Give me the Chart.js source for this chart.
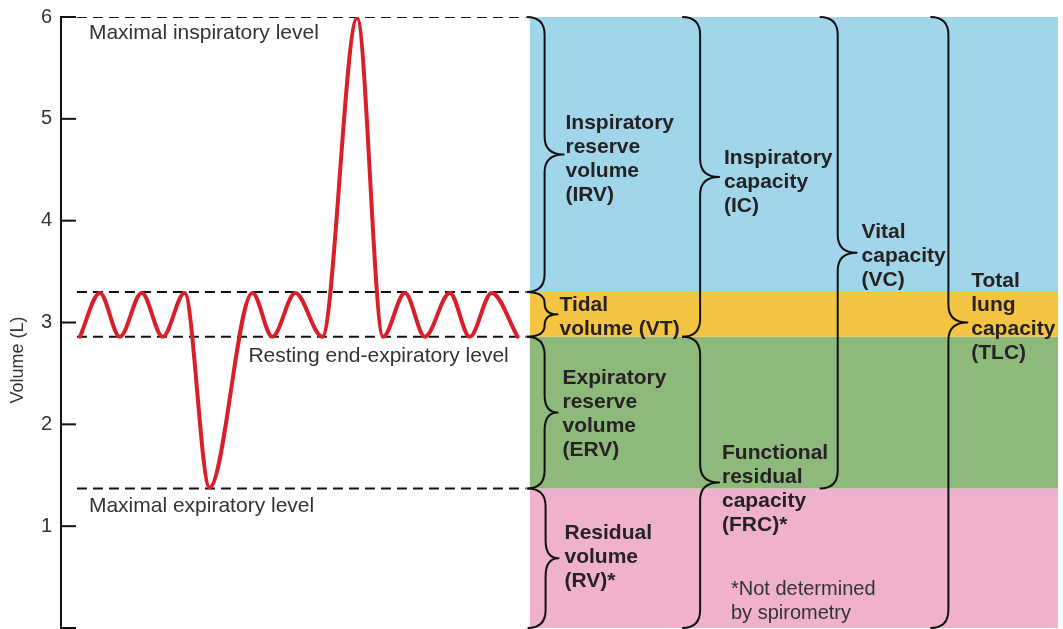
<!DOCTYPE html>
<html>
<head>
<meta charset="utf-8">
<script src="https://cdn.jsdelivr.net/npm/chart.js@4.4.1/dist/chart.umd.min.js"></script>
<style>
  html, body { margin: 0; padding: 0; background: #fff; }
  #chart { display: block; }
</style>
</head>
<body>
<canvas id="chart" width="1063" height="629"></canvas>
<script>
// spirogram trace: time in arbitrary units (0-100 across the plot), volume in L
const traceTime = [1.9, 3.9, 5.9, 8.1, 10.2, 12.4, 14.9, 19.2, 21.2, 23.5, 26.2, 29.7, 32.3, 34.5, 36.5, 39.0, 41.0, 43.2, 45.8];
const traceVolume = [2.86, 3.29, 2.86, 3.29, 2.86, 3.29, 1.38, 3.29, 2.86, 3.29, 2.86, 5.99, 2.86, 3.29, 2.86, 3.29, 2.86, 3.29, 2.86];

// reference levels (dashed lines)
const levelNames = ["Maximal inspiratory level", "", "Resting end-expiratory level", "Maximal expiratory level"];
const levelValues = [6.0, 3.3, 2.86, 1.37];

// lung volumes (coloured bands)
const volumeNames = ["IRV", "VT", "ERV", "RV"];
const volumeTops = [6.0, 3.3, 2.86, 1.37];
const volumeBottoms = [3.3, 2.86, 1.37, 0];

// capacities (sums of volumes)
const capacityNames = ["IC", "FRC", "VC", "TLC"];
const capacityTops = [6.0, 2.86, 6.0, 6.0];
const capacityBottoms = [2.86, 0, 1.37, 0];

const yTicks = [0, 1, 2, 3, 4, 5, 6];

// styling / placement
const bandColors = { IRV: "#a0d5ea", VT: "#f6c443", ERV: "#8dba7b", RV: "#efb1cc" };
const bandFrom = 47.0, bandTo = 100;
const dashFrom = 1.6, dashTo = 46.6;
const braceX = { IRV: 46.7, VT: 46.7, ERV: 46.7, RV: 46.8, IC: 62.3, FRC: 62.3, VC: 76.1, TLC: 87.2 };

const boldLabels = [
  { lines: ["Inspiratory", "reserve", "volume", "(IRV)"], x: 50.6, y: 4.98 },
  { lines: ["Tidal", "volume (VT)"], x: 50.0, y: 3.19 },
  { lines: ["Expiratory", "reserve", "volume", "(ERV)"], x: 50.3, y: 2.47 },
  { lines: ["Residual", "volume", "(RV)*"], x: 50.5, y: 0.95 },
  { lines: ["Inspiratory", "capacity", "(IC)"], x: 66.5, y: 4.63 },
  { lines: ["Functional", "residual", "capacity", "(FRC)*"], x: 66.3, y: 1.74 },
  { lines: ["Vital", "capacity", "(VC)"], x: 80.3, y: 3.91 },
  { lines: ["Total", "lung", "capacity", "(TLC)"], x: 91.3, y: 3.43 },
];
const levelLabelPos = [{ x: 2.8, y: 5.86 }, null, { x: 18.8, y: 2.69 }, { x: 2.8, y: 1.22 }];
const footnote = { lines: ["*Not determined", "by spirometry"], x: 67.2, y: 0.40 };

const FONT = "'Liberation Sans', Arial, sans-serif";
const TEXT_NUDGE = 2; // canvas "middle" sits a bit high vs the print

function buildDatasets() {
  let datasets = [];
  datasets.push({
    label: "Volume",
    data: traceTime.map((t, i) => ({ x: t, y: traceVolume[i] })),
    borderColor: "#d9202a",
    borderWidth: 4,
    pointRadius: 0,
    cubicInterpolationMode: "monotone",
    borderCapStyle: "round",
    fill: false,
  });
  levelValues.forEach((v, i) => {
    datasets.push({
      label: levelNames[i],
      data: [{ x: dashFrom, y: v }, { x: dashTo, y: v }],
      borderColor: "#111",
      borderWidth: 2,
      borderDash: [10, 6],
      pointRadius: 0,
      fill: false,
    });
  });
  volumeNames.forEach((name, i) => {
    datasets.push({
      label: name,
      data: [{ x: bandFrom, y: volumeTops[i] }, { x: bandTo, y: volumeTops[i] }],
      borderWidth: 0,
      pointRadius: 0,
      backgroundColor: bandColors[name],
      fill: { value: volumeBottoms[i] },
    });
  });
  return datasets;
}

function drawBrace(ctx, x0, yTop, yBot) {
  const h = yBot - yTop;
  const s = 18;
  const t = h > 200 ? 19 : 13;
  const r = Math.min(18, h / 4);
  const yMid = (yTop + yBot) / 2;
  ctx.beginPath();
  ctx.moveTo(x0, yTop);
  ctx.quadraticCurveTo(x0 + s, yTop, x0 + s, yTop + r);
  ctx.lineTo(x0 + s, yMid - r);
  ctx.quadraticCurveTo(x0 + s, yMid, x0 + s + t, yMid);
  ctx.quadraticCurveTo(x0 + s, yMid, x0 + s, yMid + r);
  ctx.lineTo(x0 + s, yBot - r);
  ctx.quadraticCurveTo(x0 + s, yBot, x0, yBot);
  ctx.stroke();
}

function drawLines(ctx, lines, x, y, step) {
  lines.forEach((line, i) => ctx.fillText(line, x, y + TEXT_NUDGE + i * step));
}

const annotations = {
  id: "annotations",
  afterDatasetsDraw(chart) {
    const ctx = chart.ctx;
    const xs = chart.scales.x, ys = chart.scales.y;
    const area = chart.chartArea;
    ctx.save();

    // inward tick marks
    ctx.strokeStyle = "#111";
    ctx.lineWidth = 2;
    yTicks.forEach((v) => {
      const py = ys.getPixelForValue(v);
      ctx.beginPath();
      ctx.moveTo(area.left, py);
      ctx.lineTo(area.left + 15, py);
      ctx.stroke();
    });

    // braces
    ctx.lineWidth = 2;
    ctx.lineJoin = "round";
    volumeNames.forEach((name, i) => {
      drawBrace(ctx, xs.getPixelForValue(braceX[name]), ys.getPixelForValue(volumeTops[i]), ys.getPixelForValue(volumeBottoms[i]));
    });
    capacityNames.forEach((name, i) => {
      drawBrace(ctx, xs.getPixelForValue(braceX[name]), ys.getPixelForValue(capacityTops[i]), ys.getPixelForValue(capacityBottoms[i]));
    });

    // texts
    ctx.textBaseline = "middle";
    ctx.textAlign = "left";
    ctx.fillStyle = "#262223";
    ctx.font = `bold 21px ${FONT}`;
    boldLabels.forEach((l) => {
      drawLines(ctx, l.lines, xs.getPixelForValue(l.x), ys.getPixelForValue(l.y), 24);
    });

    ctx.fillStyle = "#333";
    ctx.font = `20px ${FONT}`;
    drawLines(ctx, footnote.lines, xs.getPixelForValue(footnote.x), ys.getPixelForValue(footnote.y), 24);

    ctx.font = `21px ${FONT}`;
    levelNames.forEach((name, i) => {
      const p = levelLabelPos[i];
      if (!p || !name) return;
      ctx.fillText(name, xs.getPixelForValue(p.x), ys.getPixelForValue(p.y) + TEXT_NUDGE);
    });

    // y axis title
    ctx.font = `18px ${FONT}`;
    ctx.textAlign = "center";
    ctx.translate(18, 360);
    ctx.rotate(-Math.PI / 2);
    ctx.fillText("Volume (L)", 0, 0);
    ctx.restore();
  },
};

const chart = new Chart(document.getElementById("chart"), {
  type: "line",
  data: { datasets: buildDatasets() },
  options: {
    responsive: false,
    animation: false,
    layout: { padding: { top: 17, right: 5, bottom: 1, left: 0 } },
    plugins: { legend: { display: false }, tooltip: { enabled: false } },
    scales: {
      x: { type: "linear", min: 0, max: 100, display: false },
      y: {
        min: 0,
        max: 6,
        afterFit: (s) => {
          s.width = 61;
          s.paddingTop = 0;
          s.paddingBottom = 0;
        },
        afterBuildTicks: (s) => { s.ticks = yTicks.map((v) => ({ value: v })); },
        ticks: {
          callback: (v) => (v === 0 ? null : v),
          color: "#333",
          padding: 9,
          font: { size: 20, family: FONT },
        },
        grid: { display: false, drawTicks: false },
        border: { display: true, color: "#111", width: 2 },
      },
    },
  },
  plugins: [annotations],
});
</script>
</body>
</html>
